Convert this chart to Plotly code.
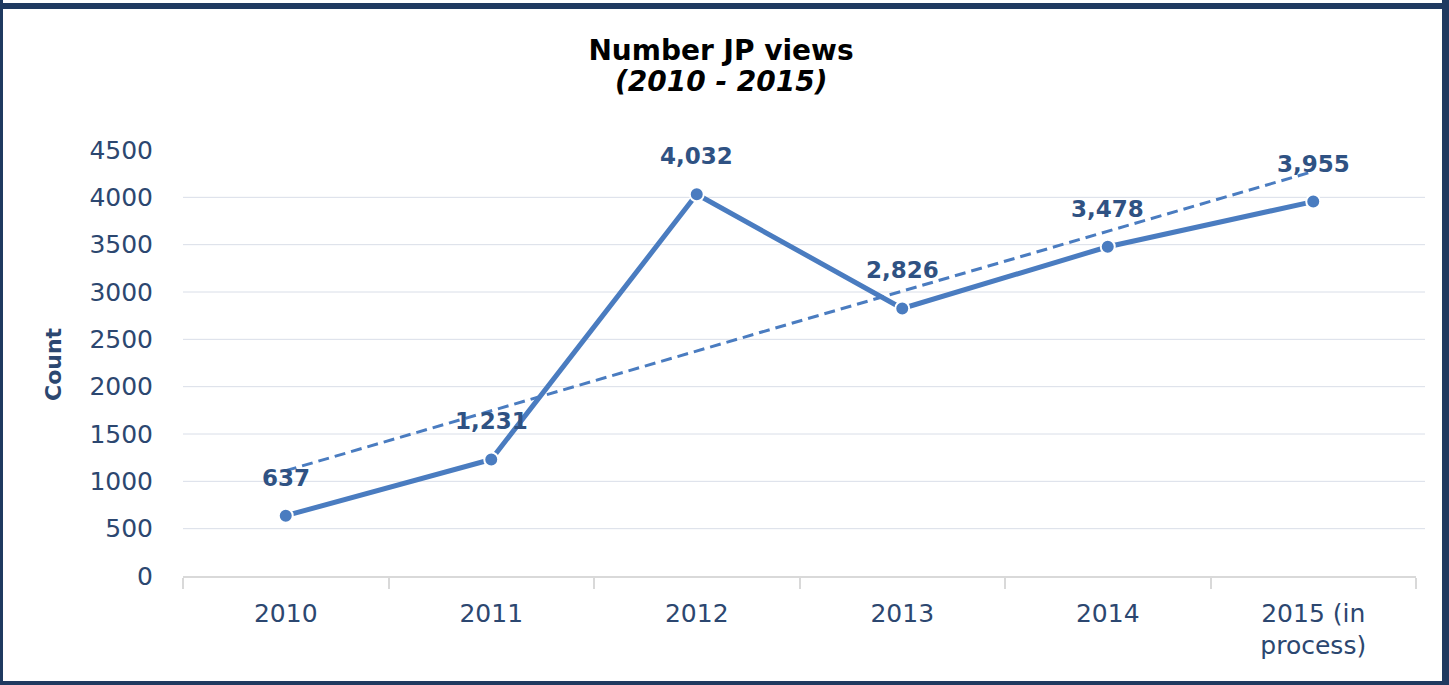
import numpy as np
import plotly.graph_objects as go

# ---- data ----
years = ["2010", "2011", "2012", "2013", "2014", "2015 (in<br>process)"]
views = [637, 1231, 4032, 2826, 3478, 3955]
y_ticks = [0, 500, 1000, 1500, 2000, 2500, 3000, 3500, 4000, 4500]
title_line1 = "Number JP views"
title_line2 = "(2010 - 2015)"
y_title = "Count"

# linear trend line (least squares over category index)
idx = np.arange(1, len(views) + 1)
coef = np.polyfit(idx, views, 1)
trend = np.polyval(coef, idx)

# ---- layout geometry ----
W, H = 1449, 685
L, R, T, B = 183, 33, 150, 109
PW, PH = W - L - R, H - T - B


def px_x(px):
    return (px - L) / PW


def px_y(py):
    return (H - B - py) / PH


FONT = "DejaVu Sans"
NAVY = "#1F3A60"
TICK = "#2C4770"
LABEL = "#2F5283"
LINE = "#4A7CC0"

fig = go.Figure()

fig.add_trace(go.Scatter(
    x=years, y=trend, mode="lines",
    line=dict(color=LINE, width=3, dash="11px,6px"),
    hoverinfo="skip", showlegend=False,
))
fig.add_trace(go.Scatter(
    x=years, y=views, mode="lines+markers",
    line=dict(color=LINE, width=5),
    marker=dict(size=14, color=LINE, line=dict(color="white", width=2)),
    showlegend=False,
))

# data labels (x given as category index)
for i, v in enumerate(views):
    fig.add_annotation(
        x=i, y=v, xref="x", yref="y", text=f"<b>{v:,}</b>", showarrow=False,
        yshift=38, xanchor="center", yanchor="middle",
        font=dict(family=FONT, size=23, color=LABEL),
    )

# y axis title
fig.add_annotation(
    xref="paper", yref="paper", x=px_x(53), y=px_y(364),
    xanchor="center", yanchor="middle",
    text=f"<b>{y_title}</b>", textangle=-90, showarrow=False,
    font=dict(family=FONT, size=22, color=TICK),
)
# title second line
fig.add_annotation(
    xref="paper", yref="paper", x=px_x(721), y=px_y(81),
    xanchor="center", yanchor="middle",
    text=f"<b><i>{title_line2}</i></b>", showarrow=False,
    font=dict(family=FONT, size=28, color="black"),
)

shapes = []
# gridlines (skip 0 and top)
for v in y_ticks[1:-1]:
    shapes.append(dict(type="line", xref="paper", yref="y", x0=0, x1=px_x(1425),
                       y0=v, y1=v, line=dict(color="#D9DEE8", width=1), layer="below"))
# outer frame
for (x0, x1, y0, y1) in [(0, 3, 0, H), (1442, W, 0, H), (0, W, 3, 9), (0, W, 681, H)]:
    shapes.append(dict(type="rect", xref="paper", yref="paper",
                       x0=px_x(x0), x1=px_x(x1), y0=px_y(y1), y1=px_y(y0),
                       fillcolor=NAVY, line=dict(width=0)))

fig.update_layout(
    width=W, height=H, autosize=False,
    margin=dict(l=L, r=R, t=T, b=B, pad=0),
    paper_bgcolor="white", plot_bgcolor="white",
    title=dict(
        text=f"<b>{title_line1}</b>",
        x=721 / W, xref="container", xanchor="center",
        y=1 - 50 / H, yref="container", yanchor="middle",
        font=dict(family=FONT, size=28, color="black"),
    ),
    shapes=shapes,
    xaxis=dict(
        type="category", range=[-0.5, len(years) - 0.5],
        showgrid=False, showline=True, linecolor="#D9D9D9", linewidth=1.5,
        ticks="outside", tickson="boundaries", ticklen=11, tickcolor="#D9D9D9",
        tickwidth=1.5, ticklabelstandoff=14,
        tickfont=dict(family=FONT, size=25, color=TICK),
    ),
    yaxis=dict(
        range=[0, 4500], tickvals=y_ticks, tickformat="d",
        showgrid=False, zeroline=False, showline=False,
        ticklabelstandoff=29,
        tickfont=dict(family=FONT, size=25, color=TICK),
    ),
)

fig.write_html("out.html", config={"displayModeBar": False},
               post_script="document.body.style.margin='0';")
